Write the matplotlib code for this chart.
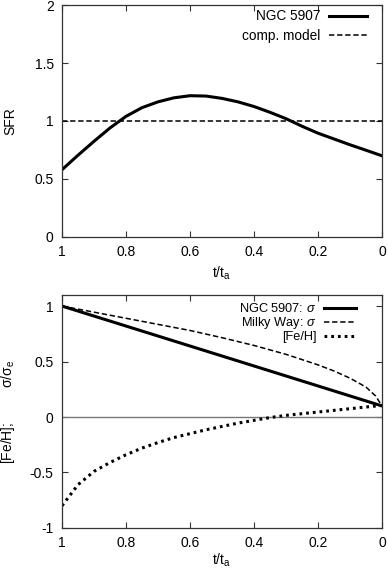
import matplotlib
matplotlib.use('Agg')
import matplotlib.pyplot as plt

plt.rcParams['font.family'] = ['Liberation Sans', 'DejaVu Sans']
plt.rcParams['mathtext.fontset'] = 'custom'
plt.rcParams['mathtext.rm'] = 'Liberation Sans'
plt.rcParams['mathtext.it'] = 'Liberation Sans:italic'
plt.rcParams['axes.unicode_minus'] = False

# top panel: star formation rate
t_sfr = [1.0, 0.95, 0.9, 0.85, 0.8, 0.75, 0.7, 0.65, 0.6, 0.55, 0.5,
         0.45, 0.4, 0.35, 0.3, 0.25, 0.2, 0.15, 0.1, 0.05, 0.0]
sfr_ngc = [0.58, 0.705, 0.825, 0.94, 1.04, 1.115, 1.165, 1.20, 1.218, 1.215, 1.195,
           1.165, 1.125, 1.075, 1.02, 0.955, 0.895, 0.845, 0.795, 0.748, 0.70]
t_comp = [1.0, 0.0]
sfr_comp = [1.0, 1.0]

# bottom panel: sigma and metallicity
t_sig = [1.0, 0.8, 0.6, 0.4, 0.2, 0.0]
sig_ngc = [1.0, 0.82, 0.64, 0.46, 0.28, 0.10]
t_mw = [1.0, 0.9, 0.8, 0.7, 0.6, 0.5, 0.4, 0.3, 0.2, 0.15, 0.1, 0.05, 0.02, 0.0]
sig_mw = [1.0, 0.945, 0.89, 0.835, 0.78, 0.715, 0.645, 0.565, 0.47, 0.415, 0.35, 0.27, 0.19, 0.10]
t_feh = [1.0, 0.95, 0.9, 0.85, 0.8, 0.75, 0.7, 0.65, 0.6, 0.55, 0.5,
         0.45, 0.4, 0.35, 0.3, 0.25, 0.2, 0.15, 0.1, 0.05, 0.0]
feh = [-0.80, -0.61, -0.49, -0.41, -0.34, -0.28, -0.23, -0.185, -0.15, -0.115, -0.085,
       -0.055, -0.03, -0.005, 0.015, 0.03, 0.045, 0.06, 0.075, 0.09, 0.105]

xticks = [1, 0.8, 0.6, 0.4, 0.2, 0]
xticklabels = ['1', '0.8', '0.6', '0.4', '0.2', '0']

fig = plt.figure(figsize=(3.88, 5.69), dpi=100)
ax1 = fig.add_axes([0.1598, 0.5835, 0.8247, 0.4077])
ax2 = fig.add_axes([0.1598, 0.0721, 0.8247, 0.4095])

def style(ax, yticks, yticklabels, fs):
    ax.set_xlim(1, 0)
    ax.set_xticks(xticks)
    ax.set_xticklabels(xticklabels, fontsize=fs)
    ax.set_yticks(yticks)
    ax.set_yticklabels(yticklabels, fontsize=fs)
    ax.tick_params(direction='in', top=True, right=True, length=4, width=0.8,
                   color='#333333', pad=6)
    for s in ax.spines.values():
        s.set_color('#333333')
        s.set_linewidth(0.9)

# 上图
ax1.plot(t_sfr, sfr_ngc, color='black', lw=2.2, label='NGC 5907')
ax1.plot(t_comp, sfr_comp, color='black', lw=1.1, ls=(0, (3.5, 1.8)), label='comp. model')
ax1.set_ylim(0, 2)
style(ax1, [0, 0.5, 1, 1.5, 2], ['0', '0.5', '1', '1.5', '2'], 10)
ax1.set_xlabel('t/t$_\\mathrm{a}$', fontsize=10, labelpad=4)
ax1.set_ylabel('SFR', fontsize=10)
ax1.yaxis.set_label_coords(-0.14, 0.5)
ax1.legend(loc='upper right', frameon=False, markerfirst=False, fontsize=9.8,
           handlelength=2.8, handletextpad=0.6, labelspacing=0.4,
           borderaxespad=0.0, bbox_to_anchor=(0.97, 1.005))

# 下图
ax2.axhline(0, color='#777777', lw=1.0)
ax2.plot(t_sig, sig_ngc, color='black', lw=2.2, label='NGC 5907: $\\sigma$')
ax2.plot(t_mw, sig_mw, color='black', lw=1.1, ls=(0, (3.5, 1.8)), label='Milky Way: $\\sigma$')
ax2.plot(t_feh, feh, color='black', lw=2.2, ls=(0, (0.9, 1.3)), label='[Fe/H]')
ax2.set_ylim(-1, 1.1)
style(ax2, [-1, -0.5, 0, 0.5, 1], ['-1', '-0.5', '0', '0.5', '1'], 10)
ax2.set_xlabel('t/t$_\\mathrm{a}$', fontsize=10, labelpad=1)
ax2.set_ylabel('[Fe/H];         σ/σ$_\\mathrm{e}$', fontsize=10)
ax2.yaxis.set_label_coords(-0.14, 0.5)
ax2.legend(loc='upper right', frameon=False, markerfirst=False, fontsize=9.2,
           handlelength=2.5, handletextpad=0.6, labelspacing=0.0,
           borderaxespad=0.0, bbox_to_anchor=(0.935, 0.99))

fig.savefig('out.png', dpi=100)
